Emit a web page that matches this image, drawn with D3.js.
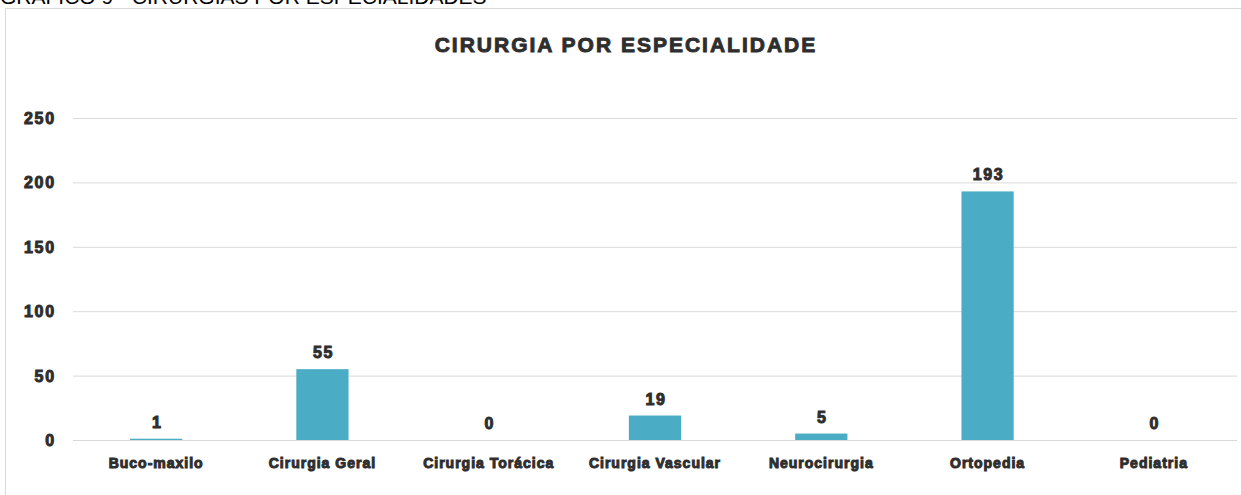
<!DOCTYPE html>
<html>
<head>
<meta charset="utf-8">
<script src="https://cdn.jsdelivr.net/npm/d3@7"></script>
<style>
  body { margin: 0; background: #fff; }
  svg { display: block; font-family: "Liberation Sans", Arial, sans-serif; }
  .lbl { font-weight: bold; fill: #2e2e2e; stroke: #2e2e2e; stroke-width: 1px; }
</style>
</head>
<body>
<div id="chart"></div>
<script>
// data
const categories = ['Buco-maxilo', 'Cirurgia Geral', 'Cirurgia Torácica', 'Cirurgia Vascular',
  'Neurocirurgia', 'Ortopedia', 'Pediatria'];
const values = [1, 55, 0, 19, 5, 193, 0];
const yTicks = [0, 50, 100, 150, 200, 250];

const width = 1241, height = 495;
const margin = {left: 73, right: 4, top: 118, bottom: 55};

const svg = d3.select('#chart').append('svg')
  .attr('width', width)
  .attr('height', height);

// caption above the frame, cut off at top
svg.append('text')
  .attr('x', 0)
  .attr('y', 4)
  .attr('font-size', 21)
  .attr('fill', '#000')
  .text('GRÁFICO 9 - CIRURGIAS POR ESPECIALIDADES');

// chart frame
svg.append('rect')
  .attr('x', 5.5).attr('y', 8.5)
  .attr('width', 1250).attr('height', 500)
  .attr('fill', 'none')
  .attr('stroke', '#d9d9d9');

svg.append('text')
  .attr('class', 'lbl')
  .attr('x', 626)
  .attr('y', 52)
  .attr('text-anchor', 'middle')
  .attr('font-size', 21)
  .style('letter-spacing', '2px')
  .style('stroke-width', '0.9px')
  .text('CIRURGIA POR ESPECIALIDADE');

const x = d3.scaleBand()
  .domain(categories)
  .range([margin.left, width - margin.right])
  .paddingInner(0.686)
  .paddingOuter(0.343);

const y = d3.scaleLinear()
  .domain([0, 250])
  .range([height - margin.bottom, margin.top]);

// gridlines
const grid = svg.append('g')
  .attr('transform', 'translate(' + margin.left + ',0)')
  .call(d3.axisLeft(y).tickValues(yTicks)
    .tickSize(-(width - margin.left - margin.right))
    .tickFormat(''));
grid.select('.domain').remove();
grid.selectAll('.tick line').attr('stroke', '#d9d9d9').attr('stroke-width', 1);

// y labels
svg.append('g').selectAll('text')
  .data(yTicks)
  .enter().append('text')
  .attr('class', 'lbl')
  .attr('x', 56)
  .attr('y', d => y(d) + 6)
  .attr('text-anchor', 'end')
  .attr('font-size', 16)
  .style('letter-spacing', '1.8px')
  .text(d => d);

// bars
svg.append('g').selectAll('rect')
  .data(values)
  .enter().append('rect')
  .attr('x', (d, i) => x(categories[i]))
  .attr('y', d => y(d))
  .attr('width', x.bandwidth())
  .attr('height', d => y(0) - y(d))
  .attr('fill', '#4bacc6');

// value labels
svg.append('g').selectAll('text')
  .data(values)
  .enter().append('text')
  .attr('class', 'lbl')
  .attr('x', (d, i) => x(categories[i]) + x.bandwidth() / 2 + 1)
  .attr('y', d => y(d) - 11)
  .attr('text-anchor', 'middle')
  .attr('font-size', 16)
  .style('letter-spacing', '1.6px')
  .text(d => d);

// x labels
svg.append('g').selectAll('text')
  .data(categories)
  .enter().append('text')
  .attr('class', 'lbl')
  .attr('x', d => x(d) + x.bandwidth() / 2)
  .attr('y', height - margin.bottom + 28)
  .attr('text-anchor', 'middle')
  .attr('font-size', 14)
  .style('letter-spacing', '1px')
  .text(d => d);
</script>
</body>
</html>
